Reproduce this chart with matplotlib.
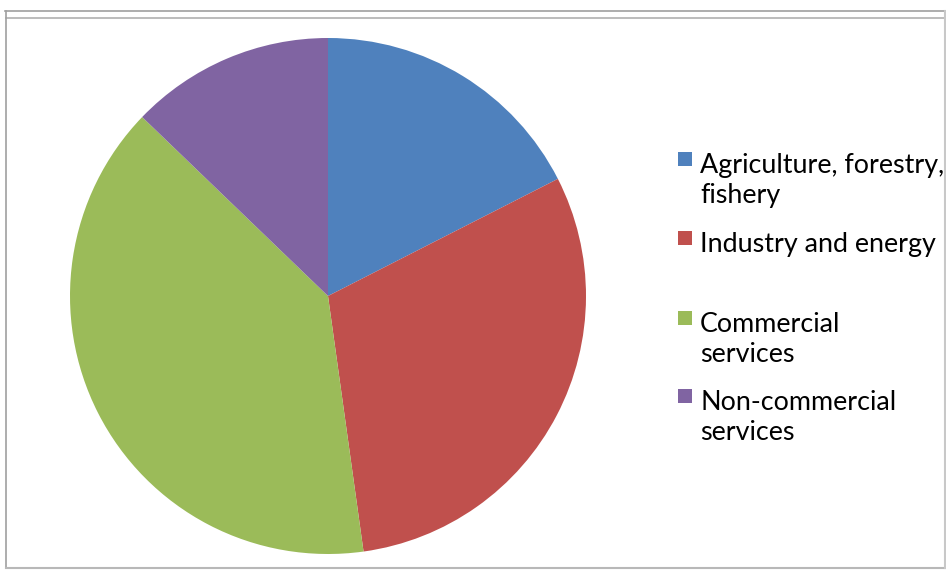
import matplotlib.pyplot as plt
from matplotlib.patches import Rectangle
from matplotlib.lines import Line2D

sectors = ['Agriculture, forestry,\nfishery', 'Industry and energy',
           'Commercial\nservices', 'Non-commercial\nservices']
shares = [17.5, 30.3, 39.4, 12.8]
colors = ['#4F81BD', '#C0504D', '#9BBB59', '#8064A2']

W, H = 946, 570
fig = plt.figure(figsize=(W / 100, H / 100), dpi=100)

# frame lines (pixel coords from top-left)
def px_line(x0, y0, x1, y1, color='#a0a0a0', lw=1.2):
    fig.add_artist(Line2D([x0 / W, x1 / W], [1 - y0 / H, 1 - y1 / H],
                          transform=fig.transFigure, color=color, lw=lw))

px_line(5, 11, 946, 11)
px_line(6, 18, 946, 18, color='#b0b0b0')
px_line(6, 11, 6, 568)
px_line(6, 568, 945, 568, color='#b8b8b8', lw=1.5)
px_line(945, 11, 945, 568, color='#c8c8c8', lw=1.5)

# pie
cx, cy, r = 328, 296, 258
ax = fig.add_axes([(cx - r) / W, (H - cy - r) / H, 2 * r / W, 2 * r / H])
ax.pie(shares, colors=colors, startangle=90, counterclock=False, radius=1)
ax.set_xlim(-1, 1)
ax.set_ylim(-1, 1)
ax.set_aspect('equal')
ax.axis('off')

# legend drawn by hand
entry_tops = [173, 252, 332, 410]
line_gap = 30
for label, color, base in zip(sectors, colors, entry_tops):
    fig.add_artist(Rectangle((678 / W, 1 - (base - 7) / H), 14 / W, 14 / H,
                             transform=fig.transFigure, color=color, lw=0))
    for i, line in enumerate(label.split('\n')):
        fig.text(700 / W, 1 - (base + i * line_gap) / H, line,
                 fontsize=19.4, family='Lato', va='baseline', ha='left',
                 color='black')

fig.savefig('out.png', dpi=100)
